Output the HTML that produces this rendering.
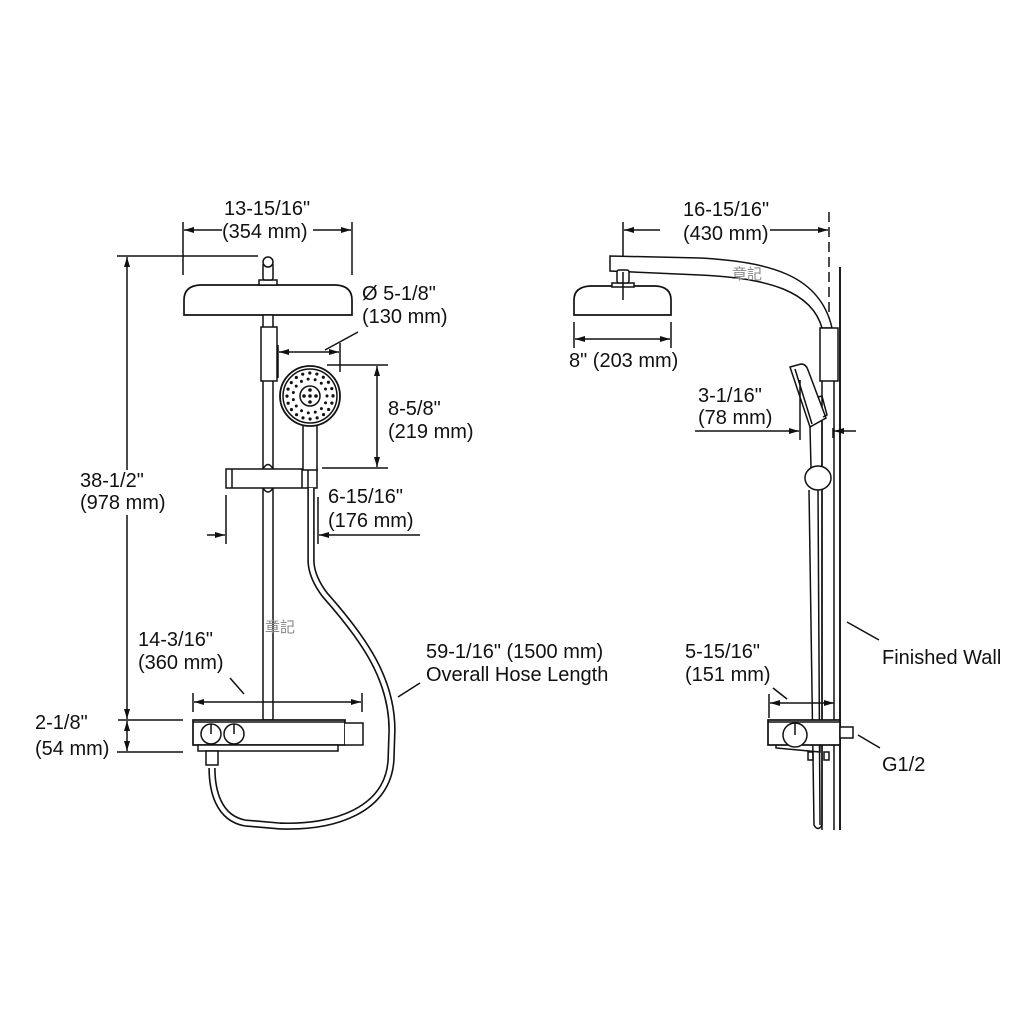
<!DOCTYPE html>
<html><head><meta charset="utf-8"><style>
html,body{margin:0;padding:0;background:#fff}
svg{display:block}
text{font-family:"Liberation Sans",Arial,sans-serif;font-size:20px;fill:#111}
.wm{font-family:"Liberation Sans","Noto Sans CJK TC",sans-serif;font-size:15px;fill:#888}
</style></head><body>
<svg width="1024" height="1024" viewBox="0 0 1024 1024" xmlns="http://www.w3.org/2000/svg">
<defs>
<marker id="a" viewBox="0 0 10 6" refX="10" refY="3" markerWidth="10" markerHeight="6" orient="auto-start-reverse" markerUnits="userSpaceOnUse"><path d="M0,0 L10,3 L0,6 z" fill="#111"/></marker>
</defs>
<g stroke="#111" stroke-width="1.5" fill="none">
<!-- ===== LEFT ===== -->
<line x1="183" y1="222" x2="183" y2="275"/><line x1="352" y1="222" x2="352" y2="275"/>
<line x1="222" y1="230" x2="184" y2="230" marker-end="url(#a)"/>
<line x1="313" y1="230" x2="351" y2="230" marker-end="url(#a)"/>
<line x1="117" y1="256" x2="258" y2="256"/>
<line x1="127" y1="470" x2="127" y2="257" marker-end="url(#a)"/>
<line x1="127" y1="515" x2="127" y2="719" marker-end="url(#a)"/>
<path d="M184,315 L184,300 Q184,286 200,285 L336,285 Q352,286 352,300 L352,315 Z" fill="#fff" stroke-width="1.7"/>
<rect x="259" y="280" width="18" height="5" fill="#fff"/>
<rect x="263" y="263" width="10" height="17" rx="2" fill="#fff"/>
<circle cx="268" cy="262" r="5" fill="#fff"/>
<rect x="263" y="315" width="10" height="405" fill="#fff"/>
<rect x="261" y="327" width="16" height="54" fill="#fff"/>
<line x1="278" y1="345" x2="278" y2="378"/>
<rect x="226" y="469" width="91" height="19" fill="#fff"/>
<path d="M263,469 Q268,460 273,469 M263,488 Q268,496 273,488" />
<line x1="232" y1="469" x2="232" y2="488"/><line x1="302" y1="469" x2="302" y2="488"/><line x1="308" y1="469" x2="308" y2="488"/>
<rect x="303" y="422" width="14" height="48" fill="#fff"/>
<circle cx="310" cy="396" r="30" fill="#fff" stroke-width="1.8"/>
<circle cx="310" cy="396" r="27"/>
<circle cx="310" cy="396" r="23" stroke="#111" stroke-width="3.2" stroke-linecap="round" stroke-dasharray="0 7.2"/>
<circle cx="310" cy="396" r="17" stroke="#111" stroke-width="3" stroke-linecap="round" stroke-dasharray="0 7.1"/>
<circle cx="310" cy="396" r="10" fill="#fff"/>
<g fill="#111" stroke="none"><circle cx="310" cy="396" r="1.8"/><circle cx="310" cy="390" r="1.8"/><circle cx="310" cy="402" r="1.8"/><circle cx="304" cy="396" r="1.8"/><circle cx="316" cy="396" r="1.8"/></g>
<line x1="340" y1="343" x2="340" y2="372"/>
<line x1="310" y1="352" x2="279" y2="352" marker-end="url(#a)"/>
<line x1="310" y1="352" x2="339" y2="352" marker-end="url(#a)"/>
<line x1="325" y1="350" x2="358" y2="332"/>
<line x1="327" y1="365" x2="388" y2="365"/><line x1="322" y1="468" x2="388" y2="468"/>
<line x1="377" y1="415" x2="377" y2="366" marker-end="url(#a)"/>
<line x1="377" y1="415" x2="377" y2="467" marker-end="url(#a)"/>
<line x1="226" y1="495" x2="226" y2="544"/><line x1="318" y1="497" x2="318" y2="544"/>
<line x1="207" y1="535" x2="225" y2="535" marker-end="url(#a)"/>
<line x1="420" y1="535" x2="319" y2="535" marker-end="url(#a)"/>
<path d="M311,488 L311,562 Q312,578 325,595 C365,640 392,680 392,730 L391,760 C388,810 335,828 280,826 L245,823 C218,818 212,790 212,768" stroke="#111" stroke-width="7.4"/>
<path d="M311,488 L311,562 Q312,578 325,595 C365,640 392,680 392,730 L391,760 C388,810 335,828 280,826 L245,823 C218,818 212,790 212,768" stroke="#fff" stroke-width="4.2"/>
<rect x="193" y="720" width="152" height="25" fill="#fff" stroke-width="1.7"/>
<line x1="193" y1="722" x2="345" y2="722"/>
<path d="M345,723 L363,723 L363,745 L345,745" fill="#fff"/>
<rect x="198" y="745" width="140" height="6" fill="#fff"/>
<rect x="206" y="751" width="12" height="14" fill="#fff"/>
<circle cx="211" cy="734" r="10" fill="#fff"/><line x1="211" y1="724" x2="211" y2="734"/>
<circle cx="234" cy="734" r="10" fill="#fff"/><line x1="234" y1="724" x2="234" y2="734"/>
<line x1="193" y1="693" x2="193" y2="712"/><line x1="362" y1="693" x2="362" y2="712"/>
<line x1="270" y1="702" x2="194" y2="702" marker-end="url(#a)"/>
<line x1="270" y1="702" x2="361" y2="702" marker-end="url(#a)"/>
<line x1="230" y1="678" x2="244" y2="694"/>
<line x1="118" y1="720" x2="183" y2="720"/><line x1="117" y1="752" x2="183" y2="752"/>
<line x1="127" y1="736" x2="127" y2="721" marker-end="url(#a)"/>
<line x1="127" y1="736" x2="127" y2="751" marker-end="url(#a)"/>
<line x1="420" y1="683" x2="398" y2="697"/>

<!-- ===== RIGHT ===== -->
<line x1="840" y1="267" x2="840" y2="830" stroke-width="1.9"/>
<line x1="829" y1="212" x2="829" y2="330" stroke-dasharray="10,5"/>
<line x1="623" y1="222" x2="623" y2="265"/>
<line x1="660" y1="230" x2="624" y2="230" marker-end="url(#a)"/>
<line x1="770" y1="230" x2="828" y2="230" marker-end="url(#a)"/>
<path d="M610,256 L700,258 C770,262 820,275 832,328 L822,328 C812,292 770,278 700,275 L610,271 Z" fill="#fff"/>
<path d="M574,315 L574,300 Q574,287 590,286 L656,286 Q671,287 671,300 L671,315 Z" fill="#fff" stroke-width="1.7"/>
<rect x="612" y="283" width="22" height="4" fill="#fff"/>
<rect x="617" y="270" width="12" height="13" rx="2" fill="#fff"/>
<line x1="623" y1="272" x2="623" y2="300"/>
<line x1="574" y1="322" x2="574" y2="348"/><line x1="671" y1="322" x2="671" y2="348"/>
<line x1="622" y1="339" x2="575" y2="339" marker-end="url(#a)"/>
<line x1="622" y1="339" x2="670" y2="339" marker-end="url(#a)"/>
<line x1="822" y1="328" x2="822" y2="830"/><line x1="834" y1="328" x2="834" y2="830"/>
<rect x="820" y="328" width="18" height="53" fill="#fff"/>
<path d="M790,367 L801,364 Q806,364 808,370 L826,418 L810,427 Z" fill="#fff"/>
<line x1="795" y1="369" x2="812" y2="424"/>
<path d="M818,397 L822,396 L827,415 L823,417"/>
<line x1="810" y1="427" x2="811" y2="468"/><line x1="822" y1="421" x2="822" y2="468"/>
<ellipse cx="818" cy="478" rx="13" ry="12" fill="#fff"/>
<path d="M809,490 L814,825 Q818,832 822,825 L822,490"/>
<line x1="818" y1="490" x2="820" y2="825"/>
<line x1="800" y1="380" x2="800" y2="440"/>
<line x1="695" y1="431" x2="799" y2="431" marker-end="url(#a)"/>
<line x1="833" y1="428" x2="833" y2="438"/>
<line x1="856" y1="431" x2="834" y2="431" marker-end="url(#a)"/>
<rect x="768" y="720" width="72" height="25" fill="#fff" stroke-width="1.7"/>
<line x1="768" y1="722" x2="840" y2="722"/>
<path d="M776,745 L776,748 L820,752 L820,745"/>
<rect x="840" y="727" width="13" height="11" fill="#fff"/>
<circle cx="795" cy="735" r="12" fill="#fff"/><line x1="795" y1="723" x2="795" y2="735"/>
<rect x="808" y="752" width="5" height="8"/><rect x="824" y="752" width="5" height="8"/>
<line x1="769" y1="694" x2="769" y2="718"/>
<line x1="800" y1="703" x2="770" y2="703" marker-end="url(#a)"/>
<line x1="800" y1="703" x2="834" y2="703" marker-end="url(#a)"/>
<line x1="773" y1="688" x2="787" y2="699"/>
<line x1="847" y1="622" x2="879" y2="640"/>
<line x1="858" y1="735" x2="880" y2="748"/>
</g>
<text x="224" y="215">13-15/16"</text>
<text x="222" y="238">(354 mm)</text>
<text x="362" y="300">Ø 5-1/8"</text>
<text x="362" y="323">(130 mm)</text>
<text x="388" y="415">8-5/8"</text>
<text x="388" y="438">(219 mm)</text>
<text x="80" y="487">38-1/2"</text>
<text x="80" y="509">(978 mm)</text>
<text x="328" y="503">6-15/16"</text>
<text x="328" y="527">(176 mm)</text>
<text x="138" y="646">14-3/16"</text>
<text x="138" y="669">(360 mm)</text>
<text x="35" y="729">2-1/8"</text>
<text x="35" y="755">(54 mm)</text>
<text x="426" y="658">59-1/16" (1500 mm)</text>
<text x="426" y="681">Overall Hose Length</text>
<text class="wm" x="265" y="632">章記</text>
<text x="683" y="216">16-15/16"</text>
<text x="683" y="240">(430 mm)</text>
<text class="wm" x="732" y="279">章記</text>
<text x="569" y="367">8" (203 mm)</text>
<text x="698" y="402">3-1/16"</text>
<text x="698" y="424">(78 mm)</text>
<text x="685" y="658">5-15/16"</text>
<text x="685" y="681">(151 mm)</text>
<text x="882" y="664">Finished Wall</text>
<text x="882" y="771">G1/2</text>
</svg>
</body></html>
